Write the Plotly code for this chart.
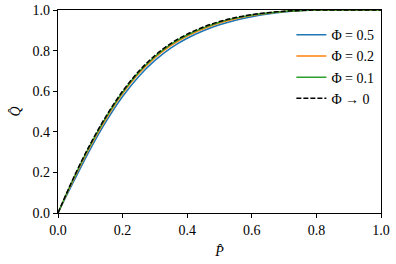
import plotly.graph_objects as go

P = [0, 0.05, 0.10, 0.15, 0.20, 0.25, 0.30, 0.35, 0.40, 0.45, 0.50, 0.55, 0.60, 0.65, 0.70, 0.75, 0.80, 0.90, 1.00]
Q_phi05 = [0, 0.160, 0.315, 0.454, 0.574, 0.673, 0.752, 0.814, 0.861, 0.898, 0.927, 0.950, 0.967, 0.980, 0.990, 0.996, 0.9995, 1.0, 1.0]
Q_phi02 = [0, 0.171, 0.329, 0.468, 0.588, 0.687, 0.765, 0.826, 0.872, 0.908, 0.936, 0.957, 0.9725, 0.984, 0.992, 0.997, 1.0, 1.0, 1.0]
Q_phi01 = [0, 0.176, 0.335, 0.475, 0.595, 0.693, 0.771, 0.832, 0.877, 0.912, 0.940, 0.960, 0.975, 0.9856, 0.993, 0.9976, 1.0, 1.0, 1.0]
Q_phi0 = [0, 0.180, 0.340, 0.480, 0.600, 0.698, 0.776, 0.836, 0.881, 0.916, 0.943, 0.963, 0.977, 0.987, 0.994, 0.998, 1.0, 1.0, 1.0]

names = ["Φ = 0.5", "Φ = 0.2", "Φ = 0.1", "Φ → 0"]
series = [Q_phi05, Q_phi02, Q_phi01, Q_phi0]
colors = ["#1f77b4", "#ff7f0e", "#2ca02c", "#000000"]
dashes = ["solid", "solid", "solid", "5px,2px"]

fig = go.Figure()
for n, q, c, d in zip(names, series, colors, dashes):
    fig.add_trace(go.Scatter(x=P, y=q, mode="lines", name=n,
                             line=dict(color=c, width=1.5, dash=d, shape="spline", smoothing=1.0)))

font = dict(family="Liberation Serif, Times New Roman, Times, serif", size=14, color="black")
axis_common = dict(range=[0, 1], dtick=0.2, tickformat=".1f", ticks="outside", ticklen=4,
                   tickwidth=1, tickcolor="black", showline=True, linecolor="black", linewidth=1.2,
                   mirror=True, showgrid=False, zeroline=False, tickfont=font, automargin=False)
fig.update_layout(
    width=396, height=264,
    margin=dict(l=58, r=15, t=10, b=51),
    plot_bgcolor="white", paper_bgcolor="white",
    font=font,
    xaxis=dict(title=dict(text="<i>P̂</i>", font=font, standoff=9), **axis_common),
    yaxis=dict(title=dict(text="<i>Q̂</i>", font=font, standoff=8), **axis_common),
    legend=dict(x=0.995, y=0.955, xanchor="right", yanchor="top", bgcolor="rgba(0,0,0,0)",
                font=font, tracegroupgap=0, itemwidth=30),
    showlegend=True,
)
fig.write_html("out.html", config={"displayModeBar": False},
               post_script="document.body.style.margin='0';")
